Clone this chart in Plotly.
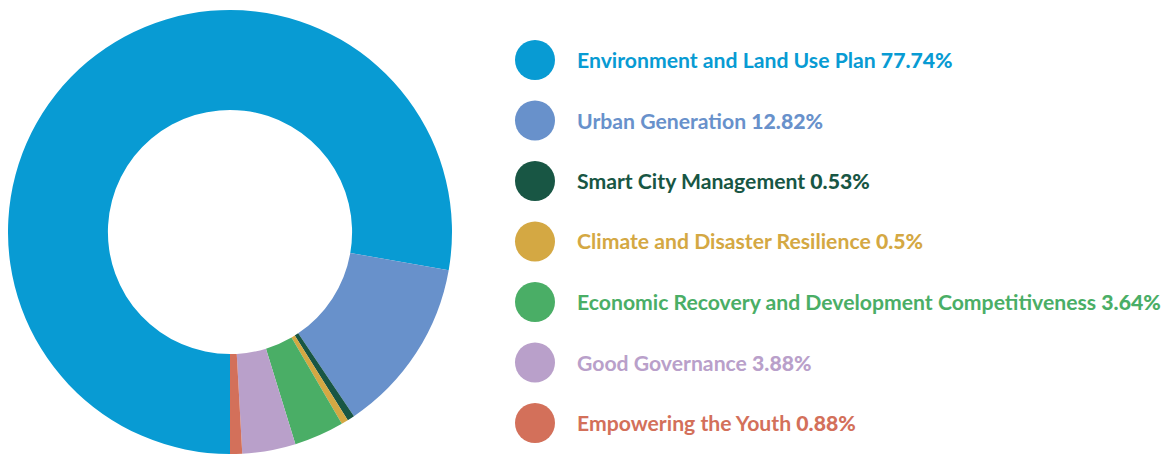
import plotly.graph_objects as go

labels = ["Environment and Land Use Plan", "Urban Generation", "Smart City Management",
          "Climate and Disaster Resilience", "Economic Recovery and Development Competitiveness",
          "Good Governance", "Empowering the Youth"]
values = [77.74, 12.82, 0.53, 0.5, 3.64, 3.88, 0.88]
pct_text = ["77.74%", "12.82%", "0.53%", "0.5%", "3.64%", "3.88%", "0.88%"]
colors = ["#089bd3", "#6891cb", "#185644", "#d4a843", "#4aae66", "#b9a0ca", "#d3705a"]

W, H = 1173, 455
OFF = 8  # page body margin

fig = go.Figure(go.Pie(
    labels=labels, values=values, hole=0.55, sort=False, direction="clockwise",
    rotation=180, marker=dict(colors=colors, line=dict(width=0)),
    textinfo="none", hoverinfo="label+percent", showlegend=False,
    domain=dict(x=[0, 444 / W], y=[1 - 446 / H, 1 - 2 / H]),
))

shapes, annotations = [], []
cx, r = 535 - OFF, 20
y0, dy = 60 - OFF, 60.5
for i, (lab, pt, col) in enumerate(zip(labels, pct_text, colors)):
    cy = y0 + i * dy
    shapes.append(dict(type="circle", xref="paper", yref="paper",
                       x0=(cx - r) / W, x1=(cx + r) / W,
                       y0=1 - (cy + r) / H, y1=1 - (cy - r) / H,
                       fillcolor=col, line=dict(width=0)))
    annotations.append(dict(xref="paper", yref="paper", x=(575 - OFF) / W, y=1 - cy / H,
                            xanchor="left", yanchor="middle", showarrow=False,
                            text=f"{lab} <span style='font-weight:900'>{pt}</span>",
                            font=dict(family="Lato", size=21.2, color=col, weight=700)))

fig.update_layout(width=W, height=H, margin=dict(l=0, r=0, t=0, b=0),
                  paper_bgcolor="white", plot_bgcolor="white",
                  shapes=shapes, annotations=annotations)
fig.write_html("out.html")
